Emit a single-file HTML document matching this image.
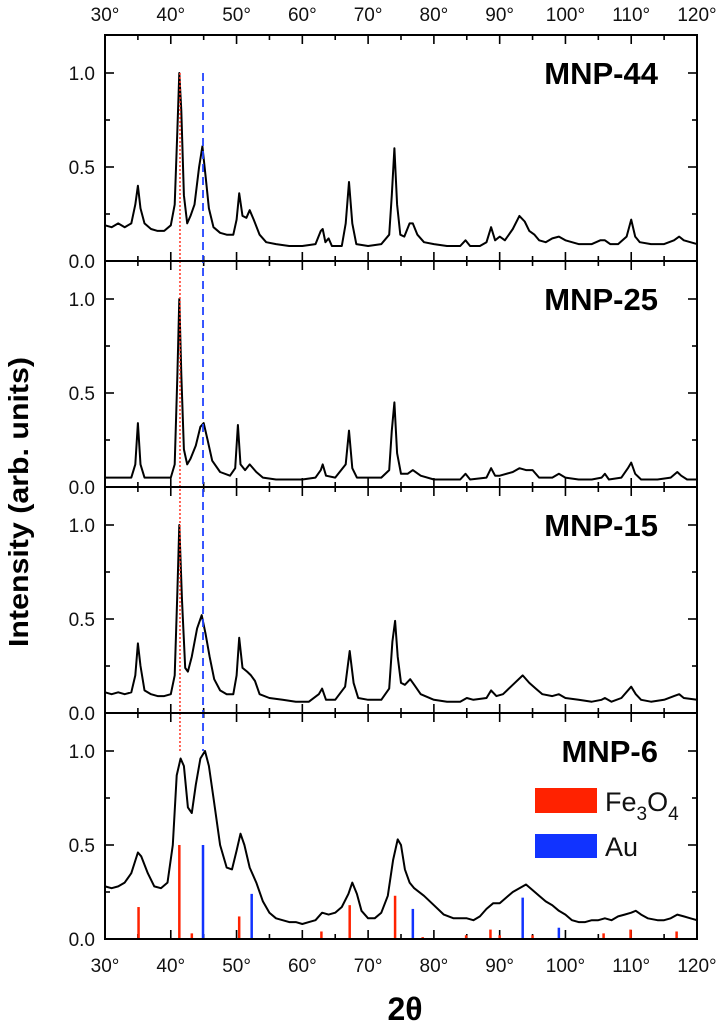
<!DOCTYPE html>
<html><head><meta charset="utf-8"><style>
html,body{margin:0;padding:0;background:#fff}
svg{display:block}
text{font-family:"Liberation Sans",sans-serif}
</style></head><body>
<svg id="chart" width="720" height="1024" viewBox="0 0 720 1024" xmlns="http://www.w3.org/2000/svg"></svg>
<script>
const panelNames = ["MNP-44","MNP-25","MNP-15","MNP-6"];
const xTicks = [30,40,50,60,70,80,90,100,110,120];
const yTicks = [0,0.5,1.0];
const mnp44 = [[30,.19],[31,.18],[32,.2],[33,.18],[34,.2],[34.6,.3],[35,.4],[35.4,.28],[36,.2],[37,.17],[38,.16],[39,.16],[40,.19],[40.6,.3],[41,.7],[41.3,1.0],[41.6,.8],[42,.35],[42.5,.2],[43,.24],[43.6,.3],[44.3,.5],[44.8,.61],[45.3,.45],[45.8,.28],[46.5,.18],[47.5,.15],[48.5,.14],[49.5,.14],[50,.22],[50.4,.36],[50.9,.24],[51.5,.23],[52,.27],[52.6,.22],[53.5,.14],[54.5,.1],[56,.09],[58,.08],[60,.08],[62,.09],[62.8,.16],[63.1,.17],[63.5,.1],[64,.12],[64.5,.08],[66,.08],[66.6,.2],[67.1,.42],[67.6,.2],[68.2,.09],[70,.08],[72,.09],[73.2,.14],[73.6,.35],[74,.6],[74.4,.3],[74.9,.14],[75.5,.13],[76.3,.2],[76.8,.2],[77.5,.14],[78.5,.1],[80,.09],[82,.08],[84,.08],[84.8,.11],[85.5,.08],[87,.08],[88,.1],[88.7,.18],[89.3,.11],[90,.13],[90.8,.11],[92,.17],[93,.24],[93.8,.21],[94.5,.16],[95.3,.14],[96,.11],[97,.1],[98,.12],[99,.13],[100,.11],[102,.09],[104,.09],[105.3,.11],[106,.11],[106.8,.09],[108,.09],[109.3,.13],[110,.22],[110.6,.13],[111.3,.1],[113,.09],[115,.09],[116.5,.11],[117.3,.13],[118,.11],[119,.1],[120,.09]];
const mnp25 = [[30,.05],[32,.05],[34,.05],[34.6,.12],[35,.34],[35.4,.12],[36,.05],[38,.05],[40,.05],[40.6,.12],[41,.6],[41.3,1.0],[41.6,.6],[42,.2],[42.5,.12],[43,.15],[43.8,.22],[44.5,.32],[45,.34],[45.6,.25],[46.3,.14],[47.5,.08],[49,.06],[49.8,.1],[50.2,.33],[50.6,.12],[51.3,.09],[52,.12],[53,.08],[54,.05],[56,.04],[58,.04],[60,.04],[62,.05],[62.8,.09],[63.1,.12],[63.6,.06],[65,.05],[66.6,.12],[67.1,.3],[67.6,.1],[68.3,.05],[70,.05],[72,.05],[73.2,.09],[73.6,.3],[74,.45],[74.4,.18],[75,.07],[76,.07],[76.8,.09],[78,.06],[80,.04],[82,.04],[84,.04],[84.8,.07],[85.5,.04],[88,.05],[88.7,.1],[89.3,.06],[90,.06],[92,.08],[93,.1],[94,.09],[95,.09],[96,.05],[98,.05],[99,.07],[100,.05],[102,.04],[104,.04],[105.5,.05],[106,.07],[106.6,.04],[108.5,.05],[109.5,.1],[110,.13],[110.6,.07],[111.5,.04],[114,.04],[116,.05],[117,.08],[117.6,.06],[118.5,.04],[120,.04]];
const mnp15 = [[30,.11],[31,.1],[32,.11],[33,.1],[34,.11],[34.6,.2],[35,.37],[35.4,.25],[36,.12],[37,.1],[38,.09],[39,.09],[40,.1],[40.6,.2],[41,.65],[41.3,1.0],[41.7,.6],[42.2,.24],[42.6,.22],[43.2,.3],[44,.45],[44.7,.52],[45.3,.42],[45.9,.3],[46.6,.18],[47.5,.12],[48.5,.1],[49.5,.1],[50,.2],[50.4,.4],[50.9,.24],[51.6,.22],[52.2,.2],[52.8,.17],[53.5,.1],[55,.08],[57,.07],[59,.06],[61,.06],[62.5,.1],[63,.13],[63.6,.07],[65,.07],[66.5,.14],[67.2,.33],[67.8,.16],[68.5,.08],[70,.07],[72,.07],[73.2,.13],[73.7,.38],[74.1,.49],[74.5,.3],[75,.16],[75.6,.15],[76.4,.18],[77,.15],[78,.1],[80,.07],[82,.06],[84,.06],[85,.08],[86,.07],[88,.08],[88.7,.12],[89.5,.09],[90.5,.1],[92,.15],[93.5,.2],[94.5,.16],[95.5,.13],[96.5,.1],[98,.09],[99,.1],[100,.08],[102,.07],[104,.06],[105.5,.07],[106,.08],[107,.06],[108.5,.08],[110,.14],[110.7,.1],[111.5,.07],[113,.06],[115,.07],[116.5,.09],[117.3,.1],[118,.08],[120,.07]];
const mnp6 = [[30,.28],[31,.27],[32,.28],[33,.3],[34,.35],[35,.46],[35.5,.44],[36.5,.35],[37.5,.28],[38.5,.27],[39.5,.3],[40.3,.5],[40.9,.87],[41.5,.96],[42,.92],[42.6,.7],[43.2,.67],[43.8,.82],[44.5,.96],[45.2,1.0],[45.8,.92],[46.5,.75],[47.5,.5],[48.5,.38],[49.3,.37],[50,.47],[50.6,.56],[51.2,.5],[52,.38],[53,.3],[54,.2],[55,.14],[56,.11],[57,.1],[58,.09],[59,.09],[60,.08],[61,.09],[62,.1],[63,.14],[64,.13],[65,.14],[66,.17],[67,.24],[67.6,.3],[68.3,.24],[69,.15],[70,.11],[71,.11],[72,.14],[73,.23],[73.8,.42],[74.5,.53],[75,.5],[75.6,.37],[76.3,.3],[77,.27],[78.5,.23],[80,.18],[81.5,.13],[83,.11],[85,.11],[86,.1],[87,.12],[88,.16],[89,.19],[90,.19],[91,.22],[92,.25],[93,.27],[94,.29],[95,.26],[96,.23],[97,.2],[98,.18],[99,.15],[100,.13],[101,.1],[102,.09],[103,.09],[104,.1],[105,.1],[106,.11],[107,.1],[108,.12],[109,.13],[110,.14],[110.7,.15],[111.5,.13],[112.5,.11],[114,.1],[115,.1],[116,.11],[117,.13],[118,.12],[119,.11],[120,.1]];
const fe3o4Pos = [35.1,41.3,43.2,50.4,62.9,67.2,74.1,78.3,84.9,88.6,90,95,105.8,109.9,116.9];
const fe3o4Int = [.17,.5,.03,.12,.04,.18,.23,.01,.02,.05,.02,.02,.03,.05,.04];
const auPos = [44.9,52.3,76.8,93.5,99];
const auInt = [.5,.24,.16,.22,.06];
const refRed = 41.4, refBlue = 44.9;

const svg = document.getElementById('chart');
const NS = 'http://www.w3.org/2000/svg';
const L = 105, R = 697, PT = [35,261,487,713], PH = 226, YS = 188;
const xs = d => L + (d - 30) / 90 * (R - L);
const ys = (p, v) => PT[p] + PH - v * YS;
function mk(tag, attrs, parent) {
  const e = document.createElementNS(NS, tag);
  for (const k in attrs) e.setAttribute(k, attrs[k]);
  (parent || svg).appendChild(e);
  return e;
}
const series = [mnp44, mnp25, mnp15, mnp6];
for (let p = 0; p < 4; p++) {
  const g = mk('g', {});
  
  
  const top = PT[p], bot = PT[p] + PH;
  for (let d = 30; d <= 120; d += 5) {
    const len = d % 10 === 0 ? 9 : 5;
    mk('line', {x1: xs(d), x2: xs(d), y1: bot, y2: bot - len, stroke: '#000', 'stroke-width': 1.6}, g);
    mk('line', {x1: xs(d), x2: xs(d), y1: top, y2: top + len, stroke: '#000', 'stroke-width': 1.6}, g);
  }
  for (let v = 0; v <= 1.0001; v += 0.25) {
    const len = Math.abs(v * 2 - Math.round(v * 2)) < 1e-6 ? 9 : 5;
    mk('line', {x1: L, x2: L + len, y1: ys(p, v), y2: ys(p, v), stroke: '#000', 'stroke-width': 1.6}, g);
    mk('line', {x1: R, x2: R - len, y1: ys(p, v), y2: ys(p, v), stroke: '#000', 'stroke-width': 1.6}, g);
  }
  yTicks.forEach(v => {
    const t = mk('text', {x: 95, y: ys(p, v) + 7, 'text-anchor': 'end', 'font-size': 19, fill: '#111'}, g);
    t.textContent = v.toFixed(1);
    
    
  });
  const pts = series[p].map(q => xs(q[0]).toFixed(1) + ',' + ys(p, q[1]).toFixed(1)).join(' ');
  const pl = mk('polyline', {points: pts, fill: 'none', stroke: '#000', 'stroke-width': 2, 'stroke-linejoin': 'round'}, g);
  
  
  const lb = mk('text', {x: 658, y: top + 49, 'text-anchor': 'end', 'font-size': 31, 'font-weight': 'bold', fill: '#000'}, g);
  lb.textContent = panelNames[p];
  
  
}
fe3o4Pos.forEach((d, i) => {
  const r = mk('line', {x1: xs(d), x2: xs(d), y1: ys(3, 0), y2: ys(3, fe3o4Int[i]), stroke: '#ff2200', 'stroke-width': 2.5});
  
  
});
auPos.forEach((d, i) => {
  const r = mk('line', {x1: xs(d), x2: xs(d), y1: ys(3, 0), y2: ys(3, auInt[i]), stroke: '#1133ff', 'stroke-width': 2.5});
  
  
});
const gr = mk('line', {x1: xs(refRed), x2: xs(refRed), y1: ys(0, 1), y2: ys(3, 1), stroke: '#ff3322', 'stroke-width': 1.5, 'stroke-dasharray': '2,2'});


const gb = mk('line', {x1: xs(refBlue), x2: xs(refBlue), y1: ys(0, 1), y2: ys(3, 1), stroke: '#2244ff', 'stroke-width': 1.8, 'stroke-dasharray': '8,5'});


const fr = mk('rect', {x: L, y: PT[0], width: R - L, height: PH * 4, fill: 'none', stroke: '#000', 'stroke-width': 2});


for (let p = 1; p < 4; p++) mk('line', {x1: L, x2: R, y1: PT[p], y2: PT[p], stroke: '#000', 'stroke-width': 2});
xTicks.forEach(d => {
  const t1 = mk('text', {x: xs(d), y: 21, 'text-anchor': 'middle', 'font-size': 19, fill: '#111'});
  t1.textContent = d + '°';
  
  
  const t2 = mk('text', {x: xs(d), y: 972, 'text-anchor': 'middle', 'font-size': 19, fill: '#111'});
  t2.textContent = d + '°';
  
  
});
</script>
<svg style="position:absolute;left:0;top:0" width="720" height="1024">
  <text x="405" y="1020" text-anchor="middle" font-family="Liberation Serif, serif" font-weight="bold" font-size="32">2θ</text>
  <text transform="translate(28,502) rotate(-90)" text-anchor="middle" font-family="Liberation Sans, sans-serif" font-weight="bold" font-size="28" textLength="290" lengthAdjust="spacingAndGlyphs">Intensity  (arb. units)</text>
  <g>
    <rect x="535" y="788" width="62" height="25" fill="#ff2200"/>
    <text x="605" y="811" font-family="Liberation Sans, sans-serif" font-size="27" fill="#111">Fe<tspan font-size="19" dy="9">3</tspan><tspan dy="-9">O</tspan><tspan font-size="19" dy="9">4</tspan></text>
    <rect x="535" y="834" width="62" height="24" fill="#1133ff"/>
    <text x="605" y="856" font-family="Liberation Sans, sans-serif" font-size="27" fill="#111">Au</text>
  </g>
</svg>
</body></html>
